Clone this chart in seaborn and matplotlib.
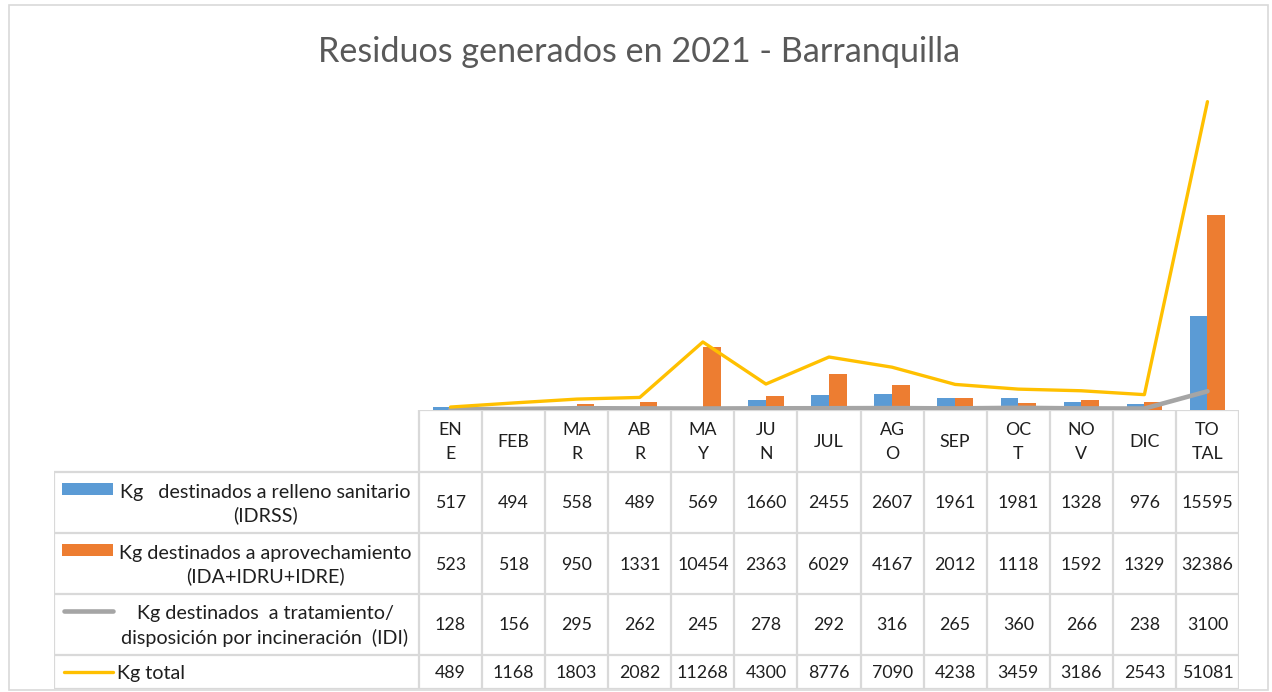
import numpy as np
import pandas as pd
import matplotlib
matplotlib.use("Agg")
import matplotlib.pyplot as plt
from matplotlib.patches import Rectangle
import seaborn as sns

# ---------------- data ----------------
meses = ["EN\nE", "FEB", "MA\nR", "AB\nR", "MA\nY", "JU\nN", "JUL", "AG\nO",
         "SEP", "OC\nT", "NO\nV", "DIC", "TO\nTAL"]
relleno = [517, 494, 558, 489, 569, 1660, 2455, 2607, 1961, 1981, 1328, 976, 15595]
aprovechamiento = [523, 518, 950, 1331, 10454, 2363, 6029, 4167, 2012, 1118, 1592, 1329, 32386]
incineracion = [128, 156, 295, 262, 245, 278, 292, 316, 265, 360, 266, 238, 3100]
total = [489, 1168, 1803, 2082, 11268, 4300, 8776, 7090, 4238, 3459, 3186, 2543, 51081]

serie_labels = [
    "Kg   destinados a relleno sanitario\n(IDRSS)",
    "Kg destinados a aprovechamiento\n(IDA+IDRU+IDRE)",
    "Kg destinados  a tratamiento/\ndisposición por incineración  (IDI)",
    "Kg total",
]
titulo = "Residuos generados en 2021 - Barranquilla"

BLUE, ORANGE, GREY, YELLOW = "#5B9BD5", "#ED7D31", "#A5A5A5", "#FFC000"
GRID = "#D9D9D9"
TXT = "#1f1f1f"

sns.set_theme(style="white")
plt.rcParams["font.family"] = ["Lato", "DejaVu Sans"]

W, H = 1272, 692
fig = plt.figure(figsize=(W / 100, H / 100), dpi=100)

def fx(px):
    return px / W

def fy(py):
    return 1 - py / H

# chart layout (pixels)
X0, X1 = 419, 1239
Y_AX_TOP, Y_AX_BOT = 78, 410
n = len(meses)
col_w = (X1 - X0) / n

ax = fig.add_axes([fx(X0), fy(Y_AX_BOT), fx(X1 - X0), (Y_AX_BOT - Y_AX_TOP) / H])

df = pd.DataFrame({
    "mes": meses * 2,
    "kg": relleno + aprovechamiento,
    "serie": ["relleno"] * n + ["aprovechamiento"] * n,
})
sns.barplot(data=df, x="mes", y="kg", hue="serie", order=meses,
            hue_order=["relleno", "aprovechamiento"],
            palette=[BLUE, ORANGE], width=0.56, ax=ax, legend=False,
            saturation=1, edgecolor="none")
pos = np.arange(n)
sns.lineplot(x=pos, y=incineracion, color=GREY, lw=3.3, ax=ax,
             solid_capstyle="round", solid_joinstyle="round")
sns.lineplot(x=pos, y=total, color=YELLOW, lw=2.4, ax=ax,
             solid_capstyle="round", solid_joinstyle="round")
ax.set_xlim(-0.5, n - 0.5)
ax.set_ylim(0, 55000)
ax.set_xticks([])
ax.set_yticks([])
ax.set_xlabel("")
ax.set_ylabel("")
for s in ax.spines.values():
    s.set_visible(False)
ax.patch.set_alpha(0)

# ---------------- data table ----------------
TL = 54
TY_BOT = 689
tax = fig.add_axes([fx(TL), fy(TY_BOT), fx(X1 - TL), (TY_BOT - Y_AX_BOT) / H])
tax.set_xlim(TL, X1)
tax.set_ylim(TY_BOT, Y_AX_BOT)
tax.axis("off")

rows_y = [410, 472, 533, 594, 655, 689]
lkw = dict(color=GRID, lw=1.6, solid_capstyle="butt")
tax.plot([X0, X1], [rows_y[0], rows_y[0]], **lkw)
for yy in rows_y[1:]:
    tax.plot([TL, X1], [yy, yy], **lkw)
for k in range(n + 1):
    xx = X0 + k * col_w
    tax.plot([xx, xx], [rows_y[0], rows_y[-1]], **lkw)
tax.plot([TL, TL], [rows_y[1], rows_y[-1]], **lkw)

FS = 12.8
FSL = 14.2
for k, m in enumerate(meses):
    cx = X0 + (k + 0.5) * col_w
    tax.text(cx, (rows_y[0] + rows_y[1]) / 2 + 1, m, ha="center", va="center",
             fontsize=FS, color=TXT, linespacing=1.55)

series = [relleno, aprovechamiento, incineracion, total]
for r, vals in enumerate(series):
    cy = (rows_y[r + 1] + rows_y[r + 2]) / 2 + 1
    for k, v in enumerate(vals):
        cx = X0 + (k + 0.5) * col_w
        tax.text(cx, cy, f"{v}", ha="center", va="center", fontsize=FS, color=TXT)

# legend keys + row labels
tax.add_patch(Rectangle((62, 483), 51, 12, color=BLUE, lw=0))
tax.add_patch(Rectangle((62, 544), 51, 12, color=ORANGE, lw=0))
tax.plot([64, 113], [611, 611], color=GREY, lw=3.3, solid_capstyle="round")
tax.plot([64, 113], [672, 672], color=YELLOW, lw=2.4, solid_capstyle="round")

label_cy = [503, 564, 625]
for r in range(3):
    tax.text(265, label_cy[r] + 1, serie_labels[r], ha="center", va="center",
             multialignment="center", fontsize=FSL, color=TXT, linespacing=1.4)
tax.text(117, 672 + 1, serie_labels[3], ha="left", va="center", fontsize=FSL, color=TXT)

# title
fig.text(fx(639), fy(52), titulo, ha="center", va="center", fontsize=24.6,
         color="#595959", fontweight="normal")

# chart border
fig.add_artist(Rectangle((fx(9), fy(690)), fx(1268 - 9), (690 - 5) / H,
                         transform=fig.transFigure, fill=False,
                         edgecolor=GRID, lw=1.2))

fig.savefig("out.png", dpi=100)
